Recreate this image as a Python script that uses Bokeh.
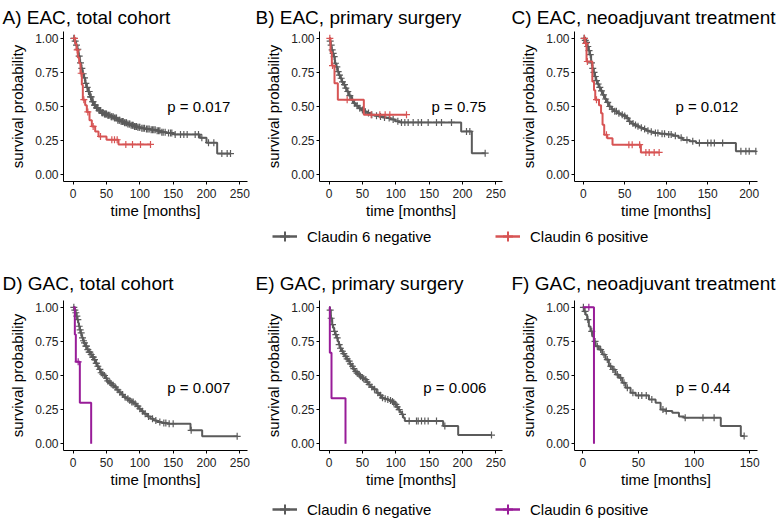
import numpy as np
from bokeh.plotting import figure
from bokeh.models import Range1d, FixedTicker, NumeralTickFormatter, Title, Legend, LegendItem
from bokeh.layouts import column, row
from bokeh.embed import file_html
from bokeh.resources import INLINE
from bokeh.core.properties import value

# ---------------- data ----------------
panel_titles = ["A) EAC, total cohort", "B) EAC, primary surgery", "C) EAC, neoadjuvant treatment",
                "D) GAC, total cohort", "E) GAC, primary surgery", "F) GAC, neoadjuvant treatment"]
pvals = ["p = 0.017", "p = 0.75", "p = 0.012", "p = 0.007", "p = 0.006", "p = 0.44"]
group_labels = ["Claudin 6 negative", "Claudin 6 positive"]
x_ticks_250 = [0, 50, 100, 150, 200, 250]
x_ticks_200 = [0, 50, 100, 150, 200]
x_ticks_150 = [0, 50, 100, 150]
y_ticks = [0, 0.25, 0.5, 0.75, 1.0]

A_neg_t = [0, 2, 4, 6, 8, 10, 12, 14, 16, 18, 20, 22, 25, 28, 31, 34, 38, 42, 46, 51, 56, 61, 66, 71, 76, 81, 86, 91, 96, 101, 108, 116, 124, 131, 140, 151, 190, 200, 216, 236]
A_neg_s = [1.0, 0.98, 0.95, 0.92, 0.87, 0.82, 0.78, 0.74, 0.71, 0.67, 0.64, 0.61, 0.57, 0.535, 0.51, 0.49, 0.47, 0.455, 0.445, 0.435, 0.425, 0.415, 0.40, 0.39, 0.38, 0.372, 0.363, 0.354, 0.347, 0.34, 0.335, 0.33, 0.322, 0.312, 0.305, 0.295, 0.27, 0.235, 0.155, 0.155]
A_neg_c = [1, 3, 5, 7, 9, 11, 13, 15, 17, 19, 21, 23, 24, 26, 27, 29, 30, 32, 33, 35, 36, 37, 39, 40, 41, 43, 44, 45, 47, 48, 49, 50, 52, 53, 55, 57, 58, 60, 62, 64, 65, 67, 69, 70, 72, 74, 75, 77, 79, 80, 82, 84, 85, 87, 89, 90, 92, 94, 95, 97, 99, 100, 103, 105, 107, 110, 112, 114, 117, 119, 121, 123, 126, 128, 130, 133, 135, 138, 143, 146, 148, 153, 161, 166, 171, 183, 188, 193, 203, 211, 223, 231, 236]
A_pos_t = [0, 3, 5, 7, 9, 11, 13, 14.5, 18, 20.5, 24.5, 28, 33, 38, 50, 68, 116]
A_pos_s = [1.0, 0.96, 0.915, 0.86, 0.817, 0.744, 0.66, 0.55, 0.51, 0.46, 0.40, 0.354, 0.317, 0.28, 0.256, 0.222, 0.222]
A_pos_c = [2, 6, 12, 16, 22, 30, 41, 58, 62, 66, 79, 89, 101, 116]

B_neg_t = [0, 1, 2, 3.5, 5, 6.5, 8.5, 10.5, 12.5, 14.5, 16.5, 19, 21.5, 24, 26.5, 29.5, 33, 36.5, 40, 44, 48, 52, 57, 62, 68, 74, 80, 86, 92, 99, 106, 198, 214, 234]
B_neg_s = [1.0, 0.98, 0.95, 0.915, 0.89, 0.866, 0.817, 0.79, 0.756, 0.73, 0.707, 0.68, 0.66, 0.635, 0.61, 0.58, 0.55, 0.524, 0.505, 0.488, 0.475, 0.463, 0.452, 0.44, 0.433, 0.427, 0.42, 0.415, 0.405, 0.392, 0.383, 0.317, 0.158, 0.158]
B_neg_c = [1.5, 3, 4.5, 6, 7.5, 9.5, 11.5, 13.5, 15.5, 18, 20, 23, 25, 28, 31, 35, 38, 42, 46, 50, 54, 59, 64, 71, 77, 83, 90, 96, 103, 108.5, 113.5, 118.5, 126, 133.5, 138.5, 148.5, 161, 168.5, 183.5, 206, 211, 234]
B_pos_t = [0, 2, 4, 8, 13, 52, 116]
B_pos_s = [1.0, 0.9, 0.8, 0.67, 0.55, 0.44, 0.44]
B_pos_c = [1, 5, 27, 63, 76, 84, 91, 116]

C_neg_t = [0, 2, 3.5, 5, 6.5, 8, 9.5, 11, 12.5, 14, 15.5, 17, 19, 21, 23.5, 26, 28.5, 31, 34, 37, 41, 45, 49, 52, 55, 58, 61, 64, 68, 72, 76, 80, 85, 92, 100, 108, 115, 120, 128, 136, 184, 208]
C_neg_s = [1.0, 0.985, 0.97, 0.94, 0.91, 0.88, 0.82, 0.78, 0.75, 0.72, 0.69, 0.665, 0.64, 0.615, 0.585, 0.555, 0.53, 0.50, 0.48, 0.465, 0.45, 0.44, 0.43, 0.415, 0.39, 0.375, 0.365, 0.355, 0.345, 0.335, 0.322, 0.315, 0.305, 0.30, 0.295, 0.285, 0.27, 0.255, 0.245, 0.232, 0.171, 0.171]
C_neg_c = [1, 2.5, 4, 5.5, 7, 8.5, 10, 11.5, 13, 14.5, 16, 18, 20, 22, 24.5, 27, 29.5, 32, 35, 38, 40, 43, 47, 50, 53, 56, 60, 63, 66, 70, 74, 78, 82, 87, 90, 95, 98, 103, 106, 111, 118, 125, 132, 140, 150, 154, 158, 168, 190, 196, 200, 208]
C_pos_t = [0, 2, 4, 11, 13, 14.5, 19, 21.5, 23.3, 25.3, 29, 35.3, 69.5, 91.5]
C_pos_s = [1.0, 0.963, 0.83, 0.683, 0.62, 0.55, 0.51, 0.45, 0.366, 0.293, 0.268, 0.22, 0.163, 0.163]
C_pos_c = [1.5, 3, 5, 16, 28, 55, 59, 68, 75.5, 79.5, 85.5, 91.5]

D_neg_t = [0, 2, 3.5, 5, 6, 7.5, 8.5, 10, 11, 12.5, 13.5, 15, 16, 18.5, 21, 23.5, 26, 28.5, 31, 33.5, 36, 38.5, 41, 43.5, 46, 48.5, 51, 53.5, 56, 58.5, 61, 65, 68.5, 72, 76, 80, 83.5, 87, 91, 95, 98.5, 102, 106, 111, 116, 121, 126, 133, 141, 176, 193.5, 246]
D_neg_s = [1.0, 0.98, 0.96, 0.935, 0.91, 0.885, 0.861, 0.835, 0.812, 0.79, 0.776, 0.755, 0.739, 0.715, 0.69, 0.672, 0.654, 0.635, 0.617, 0.59, 0.568, 0.545, 0.52, 0.51, 0.50, 0.48, 0.46, 0.45, 0.44, 0.428, 0.415, 0.395, 0.378, 0.36, 0.341, 0.33, 0.317, 0.305, 0.293, 0.275, 0.256, 0.238, 0.22, 0.20, 0.183, 0.17, 0.159, 0.152, 0.146, 0.098, 0.054, 0.054]
D_neg_c = [1, 2.5, 4, 5.5, 7, 9, 10.5, 12, 14, 15.5, 17, 19, 20, 22, 24, 25, 27, 29.5, 30, 32, 34.5, 35, 37, 40, 42, 44.5, 47, 50, 52, 55, 57, 60, 63, 67, 70, 74, 78, 82, 85, 88, 90, 93, 97, 100, 104, 108, 113, 119, 124, 130, 136, 139, 144, 150, 177, 246]
D_pos_t = [0, 2.5, 4, 10, 27]
D_pos_s = [1.0, 0.8, 0.6, 0.3, 0.0]
D_pos_c = [7.5]

E_neg_t = [0, 1, 2.5, 4.5, 6, 7.5, 9, 11, 13, 14.5, 16.5, 18.5, 21, 23.5, 26, 28.5, 31, 33.5, 36, 38.5, 41, 43.5, 46, 48.5, 51, 53.5, 56, 58.5, 62, 66, 71, 75, 78.5, 82, 86, 90, 93.5, 96, 98.5, 101, 103.5, 106, 108.5, 111, 113.5, 171, 193.5, 243.5]
E_neg_s = [1.0, 0.98, 0.92, 0.873, 0.85, 0.824, 0.80, 0.776, 0.75, 0.727, 0.70, 0.678, 0.66, 0.64, 0.622, 0.605, 0.585, 0.568, 0.55, 0.53, 0.518, 0.507, 0.495, 0.483, 0.476, 0.47, 0.452, 0.434, 0.415, 0.40, 0.373, 0.355, 0.336, 0.33, 0.324, 0.317, 0.31, 0.30, 0.288, 0.27, 0.25, 0.232, 0.215, 0.19, 0.166, 0.13, 0.063, 0.063]
E_neg_c = [1.5, 3, 5, 8, 10, 12, 15, 17, 20, 22, 25, 27, 30, 32, 35, 37, 40, 42, 45, 47, 50, 52, 55, 57, 60, 64, 68, 73, 77, 80, 84, 88, 92, 95, 97, 100, 102, 105, 110, 120, 131, 133.5, 138.5, 143.5, 148.5, 161, 173.5, 243.5]
E_pos_t = [0, 1, 3.5, 24.5]
E_pos_s = [1.0, 0.667, 0.333, 0.0]
E_pos_c = []

F_neg_t = [0, 1, 2.4, 3.9, 5.4, 6.9, 8.4, 9.9, 11.4, 14.4, 17.4, 20.4, 23.4, 26.4, 29.4, 32.4, 35.4, 38.4, 42.9, 47.4, 59.4, 65.4, 69.9, 74.4, 80.4, 86.4, 90.9, 124, 142, 145]
F_neg_s = [1.0, 0.97, 0.946, 0.91, 0.86, 0.824, 0.788, 0.75, 0.715, 0.69, 0.654, 0.617, 0.568, 0.544, 0.507, 0.483, 0.446, 0.41, 0.373, 0.354, 0.324, 0.30, 0.25, 0.239, 0.227, 0.20, 0.19, 0.13, 0.056, 0.056]
F_neg_c = [0.5, 2, 4.5, 8, 11, 13, 16, 19, 22, 25, 27, 28, 31, 34, 37, 40, 45, 50, 53, 57, 62, 72, 75, 92, 108, 118, 145]
F_pos_t = [0, 10]
F_pos_s = [1.0, 0.0]
F_pos_c = [5.4]

# ---------------- style ----------------
FONT = "Liberation Sans"
GREY = "#5b5b5b"
RED = "#d75454"
PURPLE = "#981c98"


def surv_at(t, s, c):
    t = np.asarray(t, dtype=float)
    s = np.asarray(s, dtype=float)
    c = np.asarray(c, dtype=float)
    if len(c) == 0:
        return []
    idx = np.searchsorted(t, c, side="right") - 1
    return list(s[np.clip(idx, 0, len(s) - 1)])


def make_panel(title, neg, pos, pos_color, xr, xticks, ptxt, pxy, bl, br, fw, bt, bb, toff, tstand):
    p = figure(frame_width=fw, frame_height=150,
               min_border_left=bl, min_border_right=br, min_border_top=bt, min_border_bottom=bb,
               x_range=Range1d(*xr), y_range=Range1d(-0.05, 1.05),
               output_backend="svg", toolbar_location=None, outline_line_color=None,
               title=Title(text=title, align="left", offset=toff, standoff=tstand,
                           text_font=FONT, text_font_size="19px", text_font_style="normal",
                           text_color="black"))
    p.grid.visible = False
    for ax in (p.xaxis, p.yaxis):
        ax.axis_line_color = "black"
        ax.axis_line_width = 1
        ax.major_tick_line_color = "black"
        ax.major_tick_in = 0
        ax.major_tick_out = 3
        ax.minor_tick_line_color = None
        ax.major_label_text_font = FONT
        ax.major_label_text_font_size = "12px"
        ax.major_label_text_color = "#222222"
        ax.axis_label_text_font = FONT
        ax.axis_label_text_font_size = "15px"
        ax.axis_label_text_font_style = "normal"
        ax.axis_label_text_color = "black"
    p.xaxis.major_label_standoff = 4
    p.yaxis.major_label_standoff = 2
    p.xaxis.axis_label = "time [months]"
    p.yaxis.axis_label = "survival probability"
    p.xaxis.axis_label_standoff = 1
    p.yaxis.axis_label_standoff = 6
    p.xaxis.ticker = FixedTicker(ticks=xticks)
    p.yaxis.ticker = FixedTicker(ticks=y_ticks)
    p.yaxis.formatter = NumeralTickFormatter(format="0.00")

    for (t, s, c), col in ((neg, GREY), (pos, pos_color)):
        p.step(x=t, y=s, mode="after", line_color=col, line_width=2)
        p.scatter(x=c, y=surv_at(t, s, c), marker="cross", size=7, line_color=col, line_width=1.2)

    p.text(x=[pxy[0]], y=[pxy[1]], text=[ptxt], text_font=value(FONT), text_font_size="15px",
           text_align="center", text_baseline="middle", text_color="black")
    return p


def legend_fig(pos_color, h, yb):
    f = figure(width=783, height=h, x_range=Range1d(0, 783), y_range=Range1d(0, h),
               min_border=0, output_backend="svg", toolbar_location=None, outline_line_color=None,
               x_axis_location=None, y_axis_location=None)
    f.grid.visible = False
    for lab, col, x0 in ((group_labels[0], GREY, 272), (group_labels[1], pos_color, 495)):
        ln = f.line(x=[-50, -40], y=[-50, -50], line_color=col, line_width=2.5)
        mk = f.scatter(x=[-50], y=[-50], marker="cross", size=14, line_color=col, line_width=2)
        leg = Legend(items=[LegendItem(label=lab, renderers=[ln, mk])], location=(x0, yb),
                     orientation="horizontal", padding=0, margin=0, border_line_color=None,
                     background_fill_alpha=0, glyph_width=25, glyph_height=34, label_height=34,
                     label_standoff=10, label_text_font=FONT, label_text_font_size="15px",
                     label_text_color="black")
        f.add_layout(leg)
    return f


# layout: row 1 figures 0..222, legend 222..252, row 2 252..491, legend 491..522
pA = make_panel(panel_titles[0], (A_neg_t, A_neg_s, A_neg_c), (A_pos_t, A_pos_s, A_pos_c), RED,
                (-14.5, 261.5), x_ticks_250, pvals[0], (188.5, 0.5), 63, 8, 184, 31, 41, -61, 7)
pB = make_panel(panel_titles[1], (B_neg_t, B_neg_s, B_neg_c), (B_pos_t, B_pos_s, B_pos_c), RED,
                (-14.5, 260), x_ticks_250, pvals[1], (194.5, 0.5), 64, 8, 183, 31, 41, -64, 7)
pC = make_panel(panel_titles[2], (C_neg_t, C_neg_s, C_neg_c), (C_pos_t, C_pos_s, C_pos_c), RED,
                (-10.5, 210), x_ticks_200, pvals[2], (149, 0.5), 64, 26, 183, 31, 41, -63, 7)
pD = make_panel(panel_titles[3], (D_neg_t, D_neg_s, D_neg_c), (D_pos_t, D_pos_s, D_pos_c), PURPLE,
                (-14.5, 261.5), x_ticks_250, pvals[3], (188.5, 0.41), 63, 8, 184, 48, 41, -61, 13)
pE = make_panel(panel_titles[4], (E_neg_t, E_neg_s, E_neg_c), (E_pos_t, E_pos_s, E_pos_c), PURPLE,
                (-14.5, 260), x_ticks_250, pvals[4], (188.5, 0.41), 64, 8, 183, 48, 41, -64, 13)
pF = make_panel(panel_titles[5], (F_neg_t, F_neg_s, F_neg_c), (F_pos_t, F_pos_s, F_pos_c), PURPLE,
                (-7.5, 157), x_ticks_150, pvals[5], (108, 0.41), 64, 26, 183, 48, 41, -63, 13)

leg1 = legend_fig(RED, 30, -1)
leg2 = legend_fig(PURPLE, 31, -4)

layout = column(row(pA, pB, pC), leg1, row(pD, pE, pF), leg2)
open("out.html", "w").write(file_html(layout, INLINE))
